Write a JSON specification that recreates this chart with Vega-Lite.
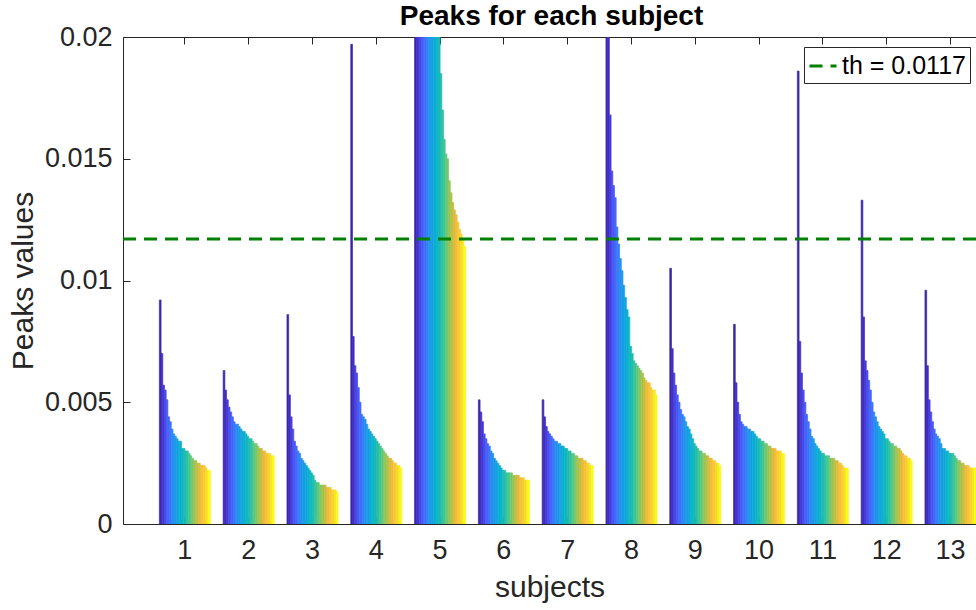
{
  "$schema": "https://vega.github.io/schema/vega-lite/v6.json",
  "width": 853,
  "height": 487,
  "autosize": "none",
  "padding": {"left": 123, "top": 37, "right": 0, "bottom": 86},
  "background": "white",
  "config": {"view": {"stroke": null}, "font": "Liberation Sans"},
  "title": {"text": "Peaks for each subject", "fontSize": 28, "fontWeight": "bold", "color": "#000000", "font": "Liberation Sans", "offset": -8, "dx": 2},
  "datasets": {
    "th": [{"th": 0.0117, "label": "th = 0.0117"}],
    "peaks": [
{"subject":1,"bar":1,"peak":0.0092},{"subject":1,"bar":2,"peak":0.0070},{"subject":1,"bar":3,"peak":0.0057},{"subject":1,"bar":4,"peak":0.0055},{"subject":1,"bar":5,"peak":0.0051},{"subject":1,"bar":6,"peak":0.0044},{"subject":1,"bar":7,"peak":0.0042},{"subject":1,"bar":8,"peak":0.0039},{"subject":1,"bar":9,"peak":0.0037},{"subject":1,"bar":10,"peak":0.0036},{"subject":1,"bar":11,"peak":0.0035},{"subject":1,"bar":12,"peak":0.0034},{"subject":1,"bar":13,"peak":0.0034},{"subject":1,"bar":14,"peak":0.0031},{"subject":1,"bar":15,"peak":0.0031},{"subject":1,"bar":16,"peak":0.0030},{"subject":1,"bar":17,"peak":0.0030},{"subject":1,"bar":18,"peak":0.0029},{"subject":1,"bar":19,"peak":0.0028},{"subject":1,"bar":20,"peak":0.0027},{"subject":1,"bar":21,"peak":0.0026},{"subject":1,"bar":22,"peak":0.0026},{"subject":1,"bar":23,"peak":0.0025},{"subject":1,"bar":24,"peak":0.0025},{"subject":1,"bar":25,"peak":0.0024},{"subject":1,"bar":26,"peak":0.0024},{"subject":1,"bar":27,"peak":0.0024},{"subject":1,"bar":28,"peak":0.0023},{"subject":1,"bar":29,"peak":0.0022},{"subject":1,"bar":30,"peak":0.0022},
{"subject":2,"bar":1,"peak":0.0063},{"subject":2,"bar":2,"peak":0.0055},{"subject":2,"bar":3,"peak":0.0051},{"subject":2,"bar":4,"peak":0.0048},{"subject":2,"bar":5,"peak":0.0046},{"subject":2,"bar":6,"peak":0.0044},{"subject":2,"bar":7,"peak":0.0042},{"subject":2,"bar":8,"peak":0.0041},{"subject":2,"bar":9,"peak":0.0041},{"subject":2,"bar":10,"peak":0.0040},{"subject":2,"bar":11,"peak":0.0039},{"subject":2,"bar":12,"peak":0.0038},{"subject":2,"bar":13,"peak":0.0038},{"subject":2,"bar":14,"peak":0.0037},{"subject":2,"bar":15,"peak":0.0036},{"subject":2,"bar":16,"peak":0.0035},{"subject":2,"bar":17,"peak":0.0035},{"subject":2,"bar":18,"peak":0.0034},{"subject":2,"bar":19,"peak":0.0033},{"subject":2,"bar":20,"peak":0.0033},{"subject":2,"bar":21,"peak":0.0032},{"subject":2,"bar":22,"peak":0.0031},{"subject":2,"bar":23,"peak":0.0031},{"subject":2,"bar":24,"peak":0.0030},{"subject":2,"bar":25,"peak":0.0030},{"subject":2,"bar":26,"peak":0.0029},{"subject":2,"bar":27,"peak":0.0029},{"subject":2,"bar":28,"peak":0.0029},{"subject":2,"bar":29,"peak":0.0028},{"subject":2,"bar":30,"peak":0.0028},
{"subject":3,"bar":1,"peak":0.0086},{"subject":3,"bar":2,"peak":0.0053},{"subject":3,"bar":3,"peak":0.0044},{"subject":3,"bar":4,"peak":0.0039},{"subject":3,"bar":5,"peak":0.0034},{"subject":3,"bar":6,"peak":0.0032},{"subject":3,"bar":7,"peak":0.0030},{"subject":3,"bar":8,"peak":0.0029},{"subject":3,"bar":9,"peak":0.0027},{"subject":3,"bar":10,"peak":0.0026},{"subject":3,"bar":11,"peak":0.0025},{"subject":3,"bar":12,"peak":0.0024},{"subject":3,"bar":13,"peak":0.0023},{"subject":3,"bar":14,"peak":0.0022},{"subject":3,"bar":15,"peak":0.0021},{"subject":3,"bar":16,"peak":0.0020},{"subject":3,"bar":17,"peak":0.0018},{"subject":3,"bar":18,"peak":0.0017},{"subject":3,"bar":19,"peak":0.0017},{"subject":3,"bar":20,"peak":0.0016},{"subject":3,"bar":21,"peak":0.0016},{"subject":3,"bar":22,"peak":0.0016},{"subject":3,"bar":23,"peak":0.0016},{"subject":3,"bar":24,"peak":0.0015},{"subject":3,"bar":25,"peak":0.0015},{"subject":3,"bar":26,"peak":0.0015},{"subject":3,"bar":27,"peak":0.0014},{"subject":3,"bar":28,"peak":0.0014},{"subject":3,"bar":29,"peak":0.0014},{"subject":3,"bar":30,"peak":0.0013},
{"subject":4,"bar":1,"peak":0.0197},{"subject":4,"bar":2,"peak":0.0077},{"subject":4,"bar":3,"peak":0.0065},{"subject":4,"bar":4,"peak":0.0062},{"subject":4,"bar":5,"peak":0.0056},{"subject":4,"bar":6,"peak":0.0050},{"subject":4,"bar":7,"peak":0.0045},{"subject":4,"bar":8,"peak":0.0044},{"subject":4,"bar":9,"peak":0.0043},{"subject":4,"bar":10,"peak":0.0041},{"subject":4,"bar":11,"peak":0.0039},{"subject":4,"bar":12,"peak":0.0038},{"subject":4,"bar":13,"peak":0.0037},{"subject":4,"bar":14,"peak":0.0036},{"subject":4,"bar":15,"peak":0.0035},{"subject":4,"bar":16,"peak":0.0034},{"subject":4,"bar":17,"peak":0.0033},{"subject":4,"bar":18,"peak":0.0032},{"subject":4,"bar":19,"peak":0.0031},{"subject":4,"bar":20,"peak":0.0030},{"subject":4,"bar":21,"peak":0.0029},{"subject":4,"bar":22,"peak":0.0028},{"subject":4,"bar":23,"peak":0.0027},{"subject":4,"bar":24,"peak":0.0027},{"subject":4,"bar":25,"peak":0.0026},{"subject":4,"bar":26,"peak":0.0025},{"subject":4,"bar":27,"peak":0.0025},{"subject":4,"bar":28,"peak":0.0024},{"subject":4,"bar":29,"peak":0.0024},{"subject":4,"bar":30,"peak":0.0023},
{"subject":5,"bar":1,"peak":0.060},{"subject":5,"bar":2,"peak":0.045},{"subject":5,"bar":3,"peak":0.040},{"subject":5,"bar":4,"peak":0.036},{"subject":5,"bar":5,"peak":0.033},{"subject":5,"bar":6,"peak":0.031},{"subject":5,"bar":7,"peak":0.029},{"subject":5,"bar":8,"peak":0.027},{"subject":5,"bar":9,"peak":0.026},{"subject":5,"bar":10,"peak":0.025},{"subject":5,"bar":11,"peak":0.024},{"subject":5,"bar":12,"peak":0.023},{"subject":5,"bar":13,"peak":0.022},{"subject":5,"bar":14,"peak":0.021},{"subject":5,"bar":15,"peak":0.0203},{"subject":5,"bar":16,"peak":0.0185},{"subject":5,"bar":17,"peak":0.0170},{"subject":5,"bar":18,"peak":0.0158},{"subject":5,"bar":19,"peak":0.0152},{"subject":5,"bar":20,"peak":0.0150},{"subject":5,"bar":21,"peak":0.0141},{"subject":5,"bar":22,"peak":0.0136},{"subject":5,"bar":23,"peak":0.0132},{"subject":5,"bar":24,"peak":0.0129},{"subject":5,"bar":25,"peak":0.0127},{"subject":5,"bar":26,"peak":0.0124},{"subject":5,"bar":27,"peak":0.0121},{"subject":5,"bar":28,"peak":0.0119},{"subject":5,"bar":29,"peak":0.0117},{"subject":5,"bar":30,"peak":0.0114},
{"subject":6,"bar":1,"peak":0.0051},{"subject":6,"bar":2,"peak":0.0046},{"subject":6,"bar":3,"peak":0.0042},{"subject":6,"bar":4,"peak":0.0037},{"subject":6,"bar":5,"peak":0.0035},{"subject":6,"bar":6,"peak":0.0033},{"subject":6,"bar":7,"peak":0.0032},{"subject":6,"bar":8,"peak":0.0030},{"subject":6,"bar":9,"peak":0.0029},{"subject":6,"bar":10,"peak":0.0027},{"subject":6,"bar":11,"peak":0.0026},{"subject":6,"bar":12,"peak":0.0025},{"subject":6,"bar":13,"peak":0.0024},{"subject":6,"bar":14,"peak":0.0023},{"subject":6,"bar":15,"peak":0.0022},{"subject":6,"bar":16,"peak":0.0022},{"subject":6,"bar":17,"peak":0.0021},{"subject":6,"bar":18,"peak":0.0021},{"subject":6,"bar":19,"peak":0.0021},{"subject":6,"bar":20,"peak":0.0021},{"subject":6,"bar":21,"peak":0.0020},{"subject":6,"bar":22,"peak":0.0020},{"subject":6,"bar":23,"peak":0.0020},{"subject":6,"bar":24,"peak":0.0020},{"subject":6,"bar":25,"peak":0.0019},{"subject":6,"bar":26,"peak":0.0019},{"subject":6,"bar":27,"peak":0.0019},{"subject":6,"bar":28,"peak":0.0018},{"subject":6,"bar":29,"peak":0.0018},{"subject":6,"bar":30,"peak":0.0018},
{"subject":7,"bar":1,"peak":0.0051},{"subject":7,"bar":2,"peak":0.0044},{"subject":7,"bar":3,"peak":0.0040},{"subject":7,"bar":4,"peak":0.0038},{"subject":7,"bar":5,"peak":0.0037},{"subject":7,"bar":6,"peak":0.0036},{"subject":7,"bar":7,"peak":0.0035},{"subject":7,"bar":8,"peak":0.0034},{"subject":7,"bar":9,"peak":0.0034},{"subject":7,"bar":10,"peak":0.0033},{"subject":7,"bar":11,"peak":0.0033},{"subject":7,"bar":12,"peak":0.0032},{"subject":7,"bar":13,"peak":0.0032},{"subject":7,"bar":14,"peak":0.0031},{"subject":7,"bar":15,"peak":0.0031},{"subject":7,"bar":16,"peak":0.0030},{"subject":7,"bar":17,"peak":0.0030},{"subject":7,"bar":18,"peak":0.0029},{"subject":7,"bar":19,"peak":0.0029},{"subject":7,"bar":20,"peak":0.0028},{"subject":7,"bar":21,"peak":0.0028},{"subject":7,"bar":22,"peak":0.0027},{"subject":7,"bar":23,"peak":0.0027},{"subject":7,"bar":24,"peak":0.0027},{"subject":7,"bar":25,"peak":0.0026},{"subject":7,"bar":26,"peak":0.0026},{"subject":7,"bar":27,"peak":0.0025},{"subject":7,"bar":28,"peak":0.0025},{"subject":7,"bar":29,"peak":0.0024},{"subject":7,"bar":30,"peak":0.0024},
{"subject":8,"bar":1,"peak":0.0235},{"subject":8,"bar":2,"peak":0.0201},{"subject":8,"bar":3,"peak":0.0168},{"subject":8,"bar":4,"peak":0.0145},{"subject":8,"bar":5,"peak":0.0139},{"subject":8,"bar":6,"peak":0.0134},{"subject":8,"bar":7,"peak":0.0122},{"subject":8,"bar":8,"peak":0.0115},{"subject":8,"bar":9,"peak":0.0109},{"subject":8,"bar":10,"peak":0.0104},{"subject":8,"bar":11,"peak":0.0098},{"subject":8,"bar":12,"peak":0.0093},{"subject":8,"bar":13,"peak":0.0088},{"subject":8,"bar":14,"peak":0.0085},{"subject":8,"bar":15,"peak":0.0073},{"subject":8,"bar":16,"peak":0.0070},{"subject":8,"bar":17,"peak":0.0067},{"subject":8,"bar":18,"peak":0.0066},{"subject":8,"bar":19,"peak":0.0065},{"subject":8,"bar":20,"peak":0.0064},{"subject":8,"bar":21,"peak":0.0063},{"subject":8,"bar":22,"peak":0.0062},{"subject":8,"bar":23,"peak":0.0060},{"subject":8,"bar":24,"peak":0.0059},{"subject":8,"bar":25,"peak":0.0058},{"subject":8,"bar":26,"peak":0.0058},{"subject":8,"bar":27,"peak":0.0056},{"subject":8,"bar":28,"peak":0.0055},{"subject":8,"bar":29,"peak":0.0055},{"subject":8,"bar":30,"peak":0.0053},
{"subject":9,"bar":1,"peak":0.0105},{"subject":9,"bar":2,"peak":0.0072},{"subject":9,"bar":3,"peak":0.0062},{"subject":9,"bar":4,"peak":0.0057},{"subject":9,"bar":5,"peak":0.0053},{"subject":9,"bar":6,"peak":0.0050},{"subject":9,"bar":7,"peak":0.0047},{"subject":9,"bar":8,"peak":0.0045},{"subject":9,"bar":9,"peak":0.0044},{"subject":9,"bar":10,"peak":0.0042},{"subject":9,"bar":11,"peak":0.0040},{"subject":9,"bar":12,"peak":0.0039},{"subject":9,"bar":13,"peak":0.0037},{"subject":9,"bar":14,"peak":0.0035},{"subject":9,"bar":15,"peak":0.0033},{"subject":9,"bar":16,"peak":0.0032},{"subject":9,"bar":17,"peak":0.0031},{"subject":9,"bar":18,"peak":0.0030},{"subject":9,"bar":19,"peak":0.0030},{"subject":9,"bar":20,"peak":0.0029},{"subject":9,"bar":21,"peak":0.0029},{"subject":9,"bar":22,"peak":0.0028},{"subject":9,"bar":23,"peak":0.0028},{"subject":9,"bar":24,"peak":0.0027},{"subject":9,"bar":25,"peak":0.0027},{"subject":9,"bar":26,"peak":0.0026},{"subject":9,"bar":27,"peak":0.0026},{"subject":9,"bar":28,"peak":0.0025},{"subject":9,"bar":29,"peak":0.0025},{"subject":9,"bar":30,"peak":0.0024},
{"subject":10,"bar":1,"peak":0.0082},{"subject":10,"bar":2,"peak":0.0058},{"subject":10,"bar":3,"peak":0.0050},{"subject":10,"bar":4,"peak":0.0045},{"subject":10,"bar":5,"peak":0.0042},{"subject":10,"bar":6,"peak":0.0041},{"subject":10,"bar":7,"peak":0.0040},{"subject":10,"bar":8,"peak":0.0040},{"subject":10,"bar":9,"peak":0.0039},{"subject":10,"bar":10,"peak":0.0039},{"subject":10,"bar":11,"peak":0.0038},{"subject":10,"bar":12,"peak":0.0038},{"subject":10,"bar":13,"peak":0.0037},{"subject":10,"bar":14,"peak":0.0036},{"subject":10,"bar":15,"peak":0.0035},{"subject":10,"bar":16,"peak":0.0035},{"subject":10,"bar":17,"peak":0.0034},{"subject":10,"bar":18,"peak":0.0034},{"subject":10,"bar":19,"peak":0.0033},{"subject":10,"bar":20,"peak":0.0033},{"subject":10,"bar":21,"peak":0.0032},{"subject":10,"bar":22,"peak":0.0032},{"subject":10,"bar":23,"peak":0.0031},{"subject":10,"bar":24,"peak":0.0031},{"subject":10,"bar":25,"peak":0.0031},{"subject":10,"bar":26,"peak":0.0030},{"subject":10,"bar":27,"peak":0.0030},{"subject":10,"bar":28,"peak":0.0030},{"subject":10,"bar":29,"peak":0.0029},{"subject":10,"bar":30,"peak":0.0029},
{"subject":11,"bar":1,"peak":0.0186},{"subject":11,"bar":2,"peak":0.0075},{"subject":11,"bar":3,"peak":0.0062},{"subject":11,"bar":4,"peak":0.0055},{"subject":11,"bar":5,"peak":0.0050},{"subject":11,"bar":6,"peak":0.0045},{"subject":11,"bar":7,"peak":0.0042},{"subject":11,"bar":8,"peak":0.0039},{"subject":11,"bar":9,"peak":0.0036},{"subject":11,"bar":10,"peak":0.0035},{"subject":11,"bar":11,"peak":0.0033},{"subject":11,"bar":12,"peak":0.0032},{"subject":11,"bar":13,"peak":0.0031},{"subject":11,"bar":14,"peak":0.0030},{"subject":11,"bar":15,"peak":0.0029},{"subject":11,"bar":16,"peak":0.0029},{"subject":11,"bar":17,"peak":0.0028},{"subject":11,"bar":18,"peak":0.0028},{"subject":11,"bar":19,"peak":0.0028},{"subject":11,"bar":20,"peak":0.0027},{"subject":11,"bar":21,"peak":0.0027},{"subject":11,"bar":22,"peak":0.0027},{"subject":11,"bar":23,"peak":0.0026},{"subject":11,"bar":24,"peak":0.0026},{"subject":11,"bar":25,"peak":0.0025},{"subject":11,"bar":26,"peak":0.0025},{"subject":11,"bar":27,"peak":0.0024},{"subject":11,"bar":28,"peak":0.0023},{"subject":11,"bar":29,"peak":0.0023},{"subject":11,"bar":30,"peak":0.0023},
{"subject":12,"bar":1,"peak":0.0133},{"subject":12,"bar":2,"peak":0.0085},{"subject":12,"bar":3,"peak":0.0067},{"subject":12,"bar":4,"peak":0.0063},{"subject":12,"bar":5,"peak":0.0059},{"subject":12,"bar":6,"peak":0.0055},{"subject":12,"bar":7,"peak":0.0050},{"subject":12,"bar":8,"peak":0.0046},{"subject":12,"bar":9,"peak":0.0044},{"subject":12,"bar":10,"peak":0.0042},{"subject":12,"bar":11,"peak":0.0040},{"subject":12,"bar":12,"peak":0.0039},{"subject":12,"bar":13,"peak":0.0038},{"subject":12,"bar":14,"peak":0.0037},{"subject":12,"bar":15,"peak":0.0035},{"subject":12,"bar":16,"peak":0.0035},{"subject":12,"bar":17,"peak":0.0034},{"subject":12,"bar":18,"peak":0.0033},{"subject":12,"bar":19,"peak":0.0033},{"subject":12,"bar":20,"peak":0.0032},{"subject":12,"bar":21,"peak":0.0032},{"subject":12,"bar":22,"peak":0.0031},{"subject":12,"bar":23,"peak":0.0031},{"subject":12,"bar":24,"peak":0.0030},{"subject":12,"bar":25,"peak":0.0029},{"subject":12,"bar":26,"peak":0.0028},{"subject":12,"bar":27,"peak":0.0028},{"subject":12,"bar":28,"peak":0.0027},{"subject":12,"bar":29,"peak":0.0027},{"subject":12,"bar":30,"peak":0.0026},
{"subject":13,"bar":1,"peak":0.0096},{"subject":13,"bar":2,"peak":0.0065},{"subject":13,"bar":3,"peak":0.0051},{"subject":13,"bar":4,"peak":0.0046},{"subject":13,"bar":5,"peak":0.0042},{"subject":13,"bar":6,"peak":0.0039},{"subject":13,"bar":7,"peak":0.0037},{"subject":13,"bar":8,"peak":0.0036},{"subject":13,"bar":9,"peak":0.0035},{"subject":13,"bar":10,"peak":0.0033},{"subject":13,"bar":11,"peak":0.0031},{"subject":13,"bar":12,"peak":0.0031},{"subject":13,"bar":13,"peak":0.0030},{"subject":13,"bar":14,"peak":0.0030},{"subject":13,"bar":15,"peak":0.0029},{"subject":13,"bar":16,"peak":0.0029},{"subject":13,"bar":17,"peak":0.0029},{"subject":13,"bar":18,"peak":0.0028},{"subject":13,"bar":19,"peak":0.0027},{"subject":13,"bar":20,"peak":0.0026},{"subject":13,"bar":21,"peak":0.0026},{"subject":13,"bar":22,"peak":0.0025},{"subject":13,"bar":23,"peak":0.0025},{"subject":13,"bar":24,"peak":0.0024},{"subject":13,"bar":25,"peak":0.0024},{"subject":13,"bar":26,"peak":0.0024},{"subject":13,"bar":27,"peak":0.0023},{"subject":13,"bar":28,"peak":0.0023},{"subject":13,"bar":29,"peak":0.0023},{"subject":13,"bar":30,"peak":0.0023}
    ]
  },
  "layer": [
    {
      "data": {"name": "peaks"},
      "mark": {"type": "bar", "clip": true, "strokeWidth": 0.7},
      "encoding": {
        "x": {
          "field": "subject", "type": "ordinal",
          "scale": {"paddingInner": 0.2, "paddingOuter": 0.285, "align": 1},
          "axis": {"title": "subjects", "titleFontSize": 30, "titleFontWeight": "normal", "titleColor": "#262626", "titlePadding": 9,
                   "labelFontSize": 27, "labelColor": "#262626", "labelAngle": 0, "labelPadding": 20,
                   "tickSize": -7, "tickColor": "#262626", "domainColor": "#262626", "tickWidth": 1, "domainWidth": 1}
        },
        "xOffset": {"field": "bar", "type": "ordinal", "scale": {"paddingInner": 0, "paddingOuter": 0}},
        "y": {
          "field": "peak", "type": "quantitative",
          "scale": {"domain": [0, 0.02], "nice": false},
          "axis": {"title": "Peaks values", "titleFontSize": 30, "titleFontWeight": "normal", "titleColor": "#262626", "titlePadding": 6,
                   "values": [0, 0.005, 0.01, 0.015, 0.02], "format": "~g", "grid": false,
                   "labelFontSize": 27, "labelColor": "#262626", "labelPadding": 18,
                   "tickSize": -7, "tickColor": "#262626", "domainColor": "#262626", "tickWidth": 1, "domainWidth": 1}
        },
        "color": {"field": "bar", "type": "ordinal", "legend": null,
          "scale": {"range": ["#3E26A8","#422FC1","#453AD8","#4749E9","#4757F6","#4366FC","#3B74FB","#3083F6","#268FEF","#1E98E7","#16A0E1","#0FA8DC","#0BAFD1","#0CB5C6","#15B9BA","#20BDAD","#2EC2A0","#43C591","#5BC881","#77C76D","#93C658","#ACC14B","#C6BD40","#DCBB3E","#EEBC3B","#FAC237","#FBCC32","#F7D92B","#F7EA21","#F9FB15"]}},
        "stroke": {"field": "bar", "type": "ordinal", "legend": null,
          "scale": {"range": ["#3E26A8","#422FC1","#453AD8","#4749E9","#4757F6","#4366FC","#3B74FB","#3083F6","#268FEF","#1E98E7","#16A0E1","#0FA8DC","#0BAFD1","#0CB5C6","#15B9BA","#20BDAD","#2EC2A0","#43C591","#5BC881","#77C76D","#93C658","#ACC14B","#C6BD40","#DCBB3E","#EEBC3B","#FAC237","#FBCC32","#F7D92B","#F7EA21","#F9FB15"]}}
      }
    },
    {
      "data": {"name": "peaks"},
      "mark": {"type": "tick", "opacity": 0},
      "encoding": {
        "x": {"field": "subject", "type": "ordinal",
          "axis": {"orient": "top", "title": null, "labels": false, "tickSize": -7, "tickColor": "#262626", "domainColor": "#262626", "tickWidth": 1, "domainWidth": 1}}
      }
    },
    {
      "data": {"name": "th"},
      "mark": {"type": "rule", "color": "#008000", "strokeWidth": 3},
      "encoding": {
        "y": {"field": "th", "type": "quantitative"},
        "strokeDash": {"field": "label", "type": "nominal", "scale": {"range": [[13, 8]]},
          "legend": {"orient": "none", "legendX": 681, "legendY": 10, "title": null,
            "labelFontSize": 25, "labelColor": "#000000", "labelFont": "Liberation Sans", "labelOffset": 4,
            "symbolType": "stroke", "symbolSize": 729, "symbolStrokeWidth": 3, "symbolStrokeColor": "#008000",
            "strokeColor": "#262626", "fillColor": "#ffffff", "padding": 4}}
      }
    }
  ],
  "resolve": {"axis": {"x": "independent"}}
}
